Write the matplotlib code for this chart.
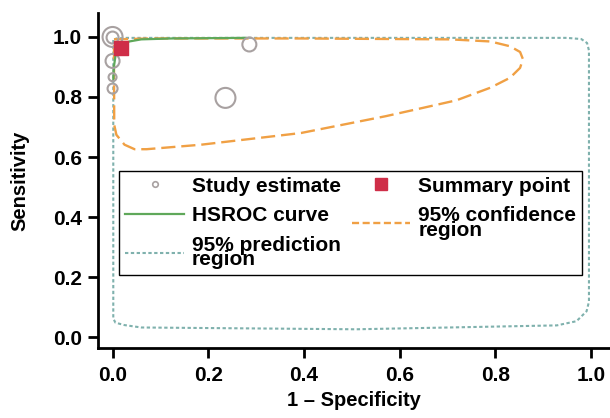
import matplotlib.pyplot as plt
from matplotlib.lines import Line2D

plt.rcParams['font.family'] = ['Liberation Sans', 'DejaVu Sans']
plt.rcParams['font.weight'] = 'bold'

# individual studies: 1 - specificity, sensitivity, relative weight
study_fpr = [0.000, 0.000, 0.000, 0.000, 0.000, 0.286, 0.236]
study_sens = [1.000, 0.998, 0.920, 0.866, 0.828, 0.975, 0.797]
study_weight = [10, 6, 7, 4, 5, 7, 10]

# summary operating point
summary_fpr = [0.0167]
summary_sens = [0.962]

# HSROC curve
hsroc_fpr = [0.0015, 0.003, 0.006, 0.0125, 0.021, 0.035, 0.06, 0.123, 0.279]
hsroc_sens = [0.854, 0.903, 0.936, 0.959, 0.975, 0.985, 0.992, 0.995, 0.997]

# 95% confidence region
conf_fpr = [0.003, 0.081, 0.394, 0.706, 0.79, 0.831, 0.852, 0.858, 0.852, 0.831,
            0.79, 0.719, 0.644, 0.571, 0.394, 0.185, 0.071, 0.046, 0.025, 0.008,
            0.0035, 0.003, 0.003]
conf_sens = [0.992, 0.995, 0.995, 0.992, 0.985, 0.969, 0.950, 0.926, 0.897, 0.864,
             0.831, 0.789, 0.762, 0.736, 0.680, 0.641, 0.626, 0.626, 0.641, 0.674,
             0.707, 0.903, 0.992]

# 95% prediction region
pred_fpr = [0.0015, 0.0015, 0.006, 0.025, 0.06, 0.509, 0.929, 0.970, 0.991, 0.996,
            0.996, 0.992, 0.980, 0.95, 0.50, 0.03, 0.008, 0.0015]
pred_sens = [0.990, 0.062, 0.048, 0.040, 0.032, 0.026, 0.039, 0.053, 0.086, 0.118,
             0.955, 0.980, 0.993, 0.997, 0.997, 0.997, 0.995, 0.990]

GREEN = '#5fa85a'
ORANGE = '#f0a044'
TEAL = '#7fb1ad'
RED = '#cf2e48'
GREY = '#a8a1a1'

fig = plt.figure(figsize=(6.1, 4.18), dpi=100)
ax = fig.add_axes([0.161, 0.167, 0.839, 0.802])

ax.plot(pred_fpr, pred_sens, color=TEAL, lw=1.5, ls=(0, (1.6, 1.2)), zorder=2)
ax.plot(conf_fpr, conf_sens, color=ORANGE, lw=1.7, ls=(0, (6, 2.5)), zorder=3)
ax.plot(hsroc_fpr, hsroc_sens, color=GREEN, lw=1.6, zorder=4)
ax.scatter(study_fpr, study_sens, s=[(2 * w * 0.72) ** 2 for w in study_weight],
           facecolors='none', edgecolors=GREY, linewidths=1.5, zorder=5)
ax.scatter(summary_fpr, summary_sens, s=100, marker='s', color=RED, zorder=6)

ax.set_xlim(-0.03, 1.04)
ax.set_ylim(-0.037, 1.08)
ax.set_xticks([0.0, 0.2, 0.4, 0.6, 0.8, 1.0])
ax.set_yticks([0.0, 0.2, 0.4, 0.6, 0.8, 1.0])
ax.tick_params(labelsize=15, width=2, length=7.5, pad=4)
ax.tick_params(axis='x', pad=5)
for s in ['top', 'right']:
    ax.spines[s].set_visible(False)
for s in ['left', 'bottom']:
    ax.spines[s].set_linewidth(2)

ax.set_xlabel('1 – Specificity', fontsize=14.5, fontweight='bold', labelpad=5)
ax.set_ylabel('Sensitivity', fontsize=14.5, fontweight='bold', labelpad=17)

handles = [
    Line2D([], [], ls='none', marker='o', ms=4, mfc='none', mec=GREY, mew=1.2),
    Line2D([], [], color=GREEN, lw=1.6),
    Line2D([], [], color=TEAL, lw=1.5, ls=(0, (1.6, 1.2))),
    Line2D([], [], ls='none', marker='s', ms=8, color=RED),
    Line2D([], [], color=ORANGE, lw=1.7, ls=(0, (3, 1.5))),
]
labels = ['Study estimate', 'HSROC curve', '95% prediction\nregion',
          'Summary point', '95% confidence\nregion']
leg = ax.legend(handles, labels, ncol=2, loc='upper left',
                bbox_to_anchor=(0.041, 0.53), fontsize=15, frameon=True,
                fancybox=False, edgecolor='black', framealpha=1,
                handlelength=2.8, handletextpad=0.4, columnspacing=0.5,
                labelspacing=0.5, borderpad=0.3, borderaxespad=0)
leg.get_frame().set_linewidth(1.0)
for t in leg.get_texts():
    t.set_linespacing(0.7)

fig.savefig('out.png', dpi=100)
